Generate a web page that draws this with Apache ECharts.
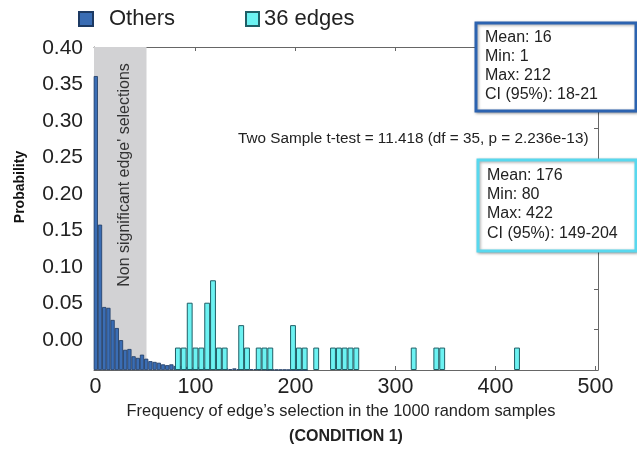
<!DOCTYPE html>
<html><head><meta charset="utf-8">
<script src="https://cdn.jsdelivr.net/npm/echarts@6/dist/echarts.min.js"></script>
<style>html,body{margin:0;padding:0;background:#fff}#c{width:637px;height:451px}</style>
</head><body><div id="c"></div>
<script>
// ---- data ----
const othersBins = [0.3, 4.5, 8.7, 12.9, 17.1, 21.3, 25.5, 29.7, 33.9, 38.1, 42.3, 46.5, 50.7, 54.9, 59.1, 63.3, 67.5, 71.7, 75.9, 80.1, 84.3, 88.5, 92.7, 96.9, 101.1, 105.3, 109.5, 113.7, 117.9, 122.1, 126.3, 130.5, 134.7, 138.9, 143.1, 147.3, 151.5, 155.7, 159.9, 164.1, 168.3, 172.5, 176.7, 180.9, 185.1, 189.3, 193.5, 197.7, 201.9, 206.1, 210.3];
const othersProb = [0.364, 0.180, 0.078, 0.077, 0.062, 0.052, 0.037, 0.025, 0.026, 0.017, 0.015, 0.019, 0.014, 0.011, 0.010, 0.009, 0.007, 0.006, 0.007, 0.005, 0.005, 0.004, 0.004, 0.003, 0.004, 0.003, 0.003, 0.002, 0.003, 0.002, 0.002, 0.002, 0.001, 0.002, 0.001, 0.001, 0.001, 0.001, 0.001, 0.0008, 0.0008, 0.0005, 0.0006, 0.0005, 0.0004, 0.0004, 0.0003, 0.0003, 0.0002, 0.0002, 0.0002];
const edgeBins = [82.4, 88.2, 94.2, 100.0, 105.8, 111.7, 117.5, 123.4, 129.2, 145.7, 151.5, 163.2, 169.0, 174.8, 197.5, 203.4, 209.2, 220.7, 237.5, 243.4, 249.2, 255.0, 260.8, 318.2, 340.8, 346.7, 421.5];
const edgeCounts = [1, 1, 3, 1, 1, 3, 4, 1, 1, 2, 1, 1, 1, 1, 2, 1, 1, 1, 1, 1, 1, 1, 1, 1, 1, 1, 1];
const totalEdges = 36;
const xTicks = [0, 100, 200, 300, 400, 500];
const yTickLabels = [0, 0.05, 0.10, 0.15, 0.20, 0.25, 0.30, 0.35, 0.40];
const nonSigLimit = 51;
const othersStats = ['Mean: 16', 'Min: 1', 'Max: 212', 'CI (95%): 18-21'];
const edgesStats = ['Mean: 176', 'Min: 80', 'Max: 422', 'CI (95%): 149-204'];
const testText = 'Two Sample t-test = 11.418 (df = 35, p = 2.236e-13)';

const FONT = '"Liberation Sans", Arial, Helvetica, sans-serif';
const frame = '#666';
const chart = echarts.init(document.getElementById('c'), null, {renderer: 'canvas'});

function statBox(x, y, w, h, color, lines, ys) {
  const els = [{type: 'rect', shape: {x: x, y: y, width: w, height: h},
    style: {fill: '#fff', stroke: color, lineWidth: 3, shadowBlur: 3, shadowColor: 'rgba(0,0,0,0.35)', shadowOffsetX: 1, shadowOffsetY: 1}, z: 100}];
  lines.forEach((t, i) => els.push({type: 'text', x: x + 9, y: ys[i], z: 101,
    style: {text: t, font: '16px ' + FONT, fill: '#222', textVerticalAlign: 'middle'}}));
  return els;
}

const option = {
  animation: false,
  grid: {left: 94, right: 39, top: 47, bottom: 81, containLabel: false},
  legend: [
    {data: ['Others'], left: 78, top: 8, padding: 0, icon: 'rect', itemWidth: 14, itemHeight: 14,
     textStyle: {fontSize: 22, color: '#222', fontFamily: FONT, padding: [0, 0, 0, 11]}},
    {data: ['36 edges'], left: 245, top: 8, padding: 0, icon: 'rect', itemWidth: 13, itemHeight: 14,
     textStyle: {fontSize: 22, color: '#222', fontFamily: FONT, padding: [0, 0, 0, 0]}}
  ],
  xAxis: [
    {type: 'value', min: -1.5, max: 502.5, position: 'bottom',
     axisLine: {show: true, onZero: false, lineStyle: {color: frame}},
     axisTick: {show: true, inside: true, length: 4, customValues: xTicks, lineStyle: {color: frame}},
     axisLabel: {customValues: xTicks, fontSize: 21.5, color: '#222', fontFamily: FONT, margin: 6},
     splitLine: {show: false}},
    {type: 'value', min: -1.5, max: 502.5, position: 'top',
     axisLine: {show: true, onZero: false, lineStyle: {color: frame}},
     axisTick: {show: true, inside: true, length: 4, customValues: xTicks, lineStyle: {color: frame}},
     axisLabel: {show: false}, splitLine: {show: false}}
  ],
  yAxis: [
    {type: 'value', min: 0, max: 0.40, interval: 0.05, position: 'left',
     axisLine: {show: true, onZero: false, lineStyle: {color: frame}},
     axisTick: {show: true, inside: true, length: 4, lineStyle: {color: frame}},
     axisLabel: {show: false}, splitLine: {show: false}},
    {type: 'value', min: 0, max: 0.40, interval: 0.05, position: 'right',
     axisLine: {show: true, onZero: false, lineStyle: {color: frame}},
     axisTick: {show: true, inside: true, length: 4, lineStyle: {color: frame}},
     axisLabel: {show: false}, splitLine: {show: false}},
    {type: 'value', min: -0.041, max: 0.4014, position: 'left',
     axisLine: {show: false}, axisTick: {show: false}, splitLine: {show: false},
     axisLabel: {customValues: yTickLabels, formatter: v => v.toFixed(2), fontSize: 21, color: '#222', fontFamily: FONT, margin: 11}}
  ],
  series: [
    {name: 'Others', type: 'bar', xAxisIndex: 0, yAxisIndex: 0, barWidth: 4.2,
     data: othersBins.map((x, i) => [x, othersProb[i]]),
     itemStyle: {color: '#3a6db4', borderColor: '#1d3a63', borderWidth: 0.8},
     markArea: {silent: true, itemStyle: {color: '#d2d2d4'},
       data: [[{xAxis: -1.5}, {xAxis: nonSigLimit}]]},
     z: 3},
    {name: '36 edges', type: 'bar', xAxisIndex: 1, yAxisIndex: 0, barWidth: 5.85,
     data: edgeBins.map((x, i) => [x, edgeCounts[i] / totalEdges]),
     itemStyle: {color: '#6cf2f2', borderColor: '#1f5e66', borderWidth: 1},
     z: 4}
  ],
  graphic: [
    {type: 'text', x: 125, y: 175, rotation: Math.PI / 2, z: 50,
     style: {text: "Non significant edge' selections", font: '16px ' + FONT, fill: '#333', textAlign: 'center', textVerticalAlign: 'middle'}},
    {type: 'text', x: 20, y: 187, rotation: Math.PI / 2, z: 50,
     style: {text: 'Probability', font: 'bold 14px ' + FONT, fill: '#111', textAlign: 'center', textVerticalAlign: 'middle'}},
    {type: 'text', x: 238, y: 139, z: 50,
     style: {text: testText, font: '15.3px ' + FONT, fill: '#222', textVerticalAlign: 'middle'}},
    {type: 'text', x: 341, y: 411, z: 50,
     style: {text: 'Frequency of edge\u2019s selection in the 1000 random samples', font: '16.4px ' + FONT, fill: '#222', textAlign: 'center', textVerticalAlign: 'middle'}},
    {type: 'text', x: 346, y: 437, z: 50,
     style: {text: '(CONDITION 1)', font: 'bold 16px ' + FONT, fill: '#222', textAlign: 'center', textVerticalAlign: 'middle'}}
  ].concat(statBox(476, 23, 160, 88, '#2c63b0', othersStats, [38, 57, 76, 95]))
   .concat(statBox(478, 160, 158, 91, '#58d8ee', edgesStats, [176, 195, 214, 234]))
};
chart.setOption(option);
</script></body></html>
